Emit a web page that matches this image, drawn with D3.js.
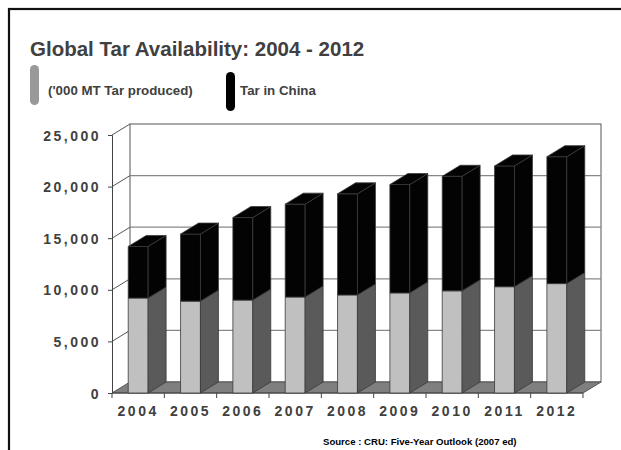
<!DOCTYPE html>
<html>
<head>
<meta charset="utf-8">
<script src="https://cdn.jsdelivr.net/npm/d3@7"></script>
<style>
  body { margin: 0; background: #fff; }
  text { font-family: "Liberation Sans", Arial, sans-serif; font-weight: bold; fill: #404040; }
</style>
</head>
<body>
<svg id="chart" width="621" height="450"></svg>
<script>
var years = ["2004", "2005", "2006", "2007", "2008", "2009", "2010", "2011", "2012"];
var produced = [9200, 8900, 9000, 9300, 9500, 9700, 9900, 10300, 10600];
var china = [5000, 6500, 8000, 9000, 9800, 10500, 11100, 11700, 12300];
var yTicks = [0, 5000, 10000, 15000, 20000, 25000];
var seriesNames = ["('000 MT Tar produced)", "Tar in China"];

var svg = d3.select("#chart");
var dx = 18, dy = -11; // depth of the 3d box

var x = d3.scaleBand().domain(years).range([112, 583]).paddingInner(0.62).paddingOuter(0.31);
var y = d3.scaleLinear().domain([0, 25000]).range([393, 135]);
var x0 = 112, x1 = 583;

// frame
svg.append("rect").attr("x", 9).attr("y", 9).attr("width", 640).attr("height", 460)
  .attr("fill", "none").attr("stroke", "#111").attr("stroke-width", 2.2);

// title + legend
svg.append("text").attr("x", 30).attr("y", 56).style("font-size", "20.5px")
  .text("Global Tar Availability: 2004 - 2012");

svg.append("rect").attr("x", 30).attr("y", 65).attr("width", 9).attr("height", 40)
  .attr("rx", 4.5).attr("fill", "#999");
svg.append("text").attr("x", 48).attr("y", 95).style("font-size", "13.3px").text(seriesNames[0]);
svg.append("rect").attr("x", 226).attr("y", 72).attr("width", 9).attr("height", 39)
  .attr("rx", 4.5).attr("fill", "#000");
svg.append("text").attr("x", 240).attr("y", 95).style("font-size", "13.3px").text(seriesNames[1]);

// back wall
svg.append("rect").attr("x", x0 + dx).attr("y", y(25000) + dy)
  .attr("width", x1 - x0).attr("height", y(0) - y(25000))
  .attr("fill", "#fff").attr("stroke", "#555").attr("stroke-width", 1);

svg.append("g").selectAll("line.grid")
  .data(yTicks.slice(1, -1))
  .enter().append("line")
    .attr("x1", x0 + dx).attr("x2", x1 + dx)
    .attr("y1", d => y(d) + dy).attr("y2", d => y(d) + dy)
    .attr("stroke", "#888").attr("stroke-width", 1.2);

// side wall diagonals
svg.append("g").selectAll("line.side")
  .data(yTicks.slice(1))
  .enter().append("line")
    .attr("x1", x0).attr("x2", x0 + dx)
    .attr("y1", d => y(d)).attr("y2", d => y(d) + dy)
    .attr("stroke", "#555").attr("stroke-width", 1);

// floor
svg.append("path")
  .attr("d", "M" + x0 + "," + y(0) + "L" + (x0 + dx) + "," + (y(0) + dy) +
             "L" + (x1 + dx) + "," + (y(0) + dy) + "L" + x1 + "," + y(0) + "Z")
  .attr("fill", "#7f7f7f").attr("stroke", "#555").attr("stroke-width", 1);

// y axis
var yAxis = d3.axisLeft(y).tickValues(yTicks).tickFormat(d3.format(",")).tickSize(4).tickPadding(7);
var gy = svg.append("g").attr("transform", "translate(" + x0 + ",0)").call(yAxis);
gy.select(".domain").attr("stroke", "#444");
gy.selectAll(".tick line").attr("stroke", "#444");
gy.selectAll(".tick text").style("font-size", "14px").style("letter-spacing", "2.5px")
  .attr("fill", "#404040").attr("dy", "0.36em");

// x axis: labels at centres, ticks at band edges
var xAxis = d3.axisBottom(x).tickSize(0).tickPadding(13);
var gx = svg.append("g").attr("transform", "translate(0," + y(0) + ")").call(xAxis);
gx.select(".domain").attr("stroke", "#444").attr("d", "M" + x0 + ",0H" + x1);
gx.selectAll(".tick text").style("font-size", "14px").style("letter-spacing", "2.5px")
  .attr("fill", "#404040");

var edges = years.map(d => x(d) - x.step() * x.paddingInner() / 2);
edges.push(x1);
gx.selectAll("line.edge").data(edges).enter().append("line")
  .attr("x1", d => d).attr("x2", d => d).attr("y1", 0).attr("y2", 5)
  .attr("stroke", "#444");

// bars
function face(points, fill) {
  return bars.append("path")
    .attr("d", "M" + points.map(p => p.join(",")).join("L") + "Z")
    .attr("fill", fill).attr("stroke", "#3a3a3a").attr("stroke-width", 0.8)
    .attr("stroke-linejoin", "round");
}

var bars = svg.append("g");
years.forEach(function(yr, i) {
  var a = x(yr), b = a + x.bandwidth();
  var segs = [
    { lo: 0, hi: produced[i], front: "#c0c0c0", side: "#5a5a5a", top: "#999" },
    { lo: produced[i], hi: produced[i] + china[i], front: "#030303", side: "#030303", top: "#030303" }
  ];
  segs.forEach(function(s, k) {
    var t = y(s.hi), bt = y(s.lo);
    face([[a, t], [b, t], [b, bt], [a, bt]], s.front);
    face([[b, t], [b + dx, t + dy], [b + dx, bt + dy], [b, bt]], s.side);
    if (k === segs.length - 1) {
      face([[a, t], [a + dx, t + dy], [b + dx, t + dy], [b, t]], s.top);
    }
  });
});

// source note
svg.append("text").attr("x", 323).attr("y", 445).style("font-size", "9.6px")
  .style("fill", "#000")
  .text("Source : CRU: Five-Year Outlook (2007 ed)");
</script>
</body>
</html>
